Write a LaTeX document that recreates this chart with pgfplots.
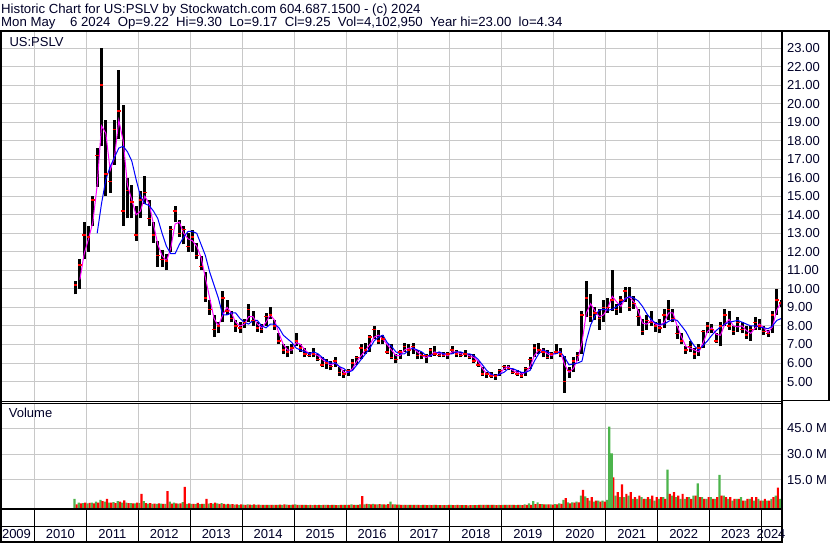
\documentclass[border=0pt]{standalone}
\usepackage{pgfplots}
\pgfplotsset{compat=1.18}
\usepackage{pgfplotstable}
\usepackage{fontspec}
\setmainfont{Liberation Sans}
\definecolor{gridc}{RGB}{200,200,200}
\definecolor{vgreen}{RGB}{76,180,76}
\definecolor{magc}{RGB}{255,0,255}
\definecolor{txt}{RGB}{0,0,40}
% monthly: m = months since Jan 2010; h,l,c price; a = short MA; b = long MA; g,r = volume (M) up/down
\pgfplotstableread{
m h l c a b g r
9 10.4 9.7 10.2 nan nan 4.0 0.8
10 11.6 10.0 11.3 10.5 nan 1.8 1.5
11 13.6 11.6 12.9 11.9 nan 1.6 1.9
12 13.4 12.0 12.8 12.7 nan 1.4 1.7
13 15.0 13.4 14.8 13.6 nan 1.8 1.5
14 17.6 15.5 17.2 15.6 13.0 2.4 1.9
15 23.0 17.7 21.0 18.8 14.6 3.5 2.8
16 19.1 15.0 16.2 18.4 15.9 2.4 4.0
17 16.6 15.2 15.8 16.4 16.6 1.9 1.8
18 19.1 16.7 18.6 17.1 17.1 2.2 1.6
19 21.8 18.1 19.6 19.1 17.6 2.8 2.4
20 19.9 13.4 14.2 18.0 17.7 1.9 3.2
21 16.0 13.8 15.3 15.6 17.4 1.8 1.6
22 15.6 13.8 14.7 14.8 16.9 1.6 1.4
23 14.5 12.6 12.9 14.0 15.9 1.4 1.8
24 15.3 13.8 14.8 14.2 15.0 1.6 6.9
25 16.1 14.6 15.2 15.0 14.6 2.8 1.6
26 14.8 13.4 13.8 14.6 14.5 1.3 1.6
27 13.6 12.5 12.9 13.5 14.2 1.1 1.3
28 12.6 11.2 11.8 12.4 13.8 1.1 1.5
29 12.1 11.2 11.6 11.8 13.0 1.3 1.1
30 11.9 11.0 11.5 11.5 12.3 1.2 8.6
31 13.4 12.0 13.2 12.2 11.9 2.5 1.3
32 14.5 13.6 14.2 13.5 11.9 1.8 1.5
33 13.7 12.8 13.0 13.6 12.4 1.3 1.5
34 13.4 12.4 13.2 13.0 12.8 2.2 11.0
35 13.0 12.0 12.3 12.7 13.1 1.2 1.5
36 13.2 12.0 12.8 12.6 13.1 1.2 1.2
37 12.5 11.6 11.8 12.3 13.0 1.0 1.7
38 11.8 11.0 11.2 11.7 12.4 1.0 1.2
39 10.9 9.3 9.5 10.6 11.8 1.2 4.0
40 9.4 8.6 8.9 9.5 10.9 1.3 1.6
41 8.6 7.4 7.8 8.4 10.2 1.3 1.8
42 8.2 7.6 8.0 8.0 9.5 1.5 1.1
43 9.9 8.2 9.5 8.6 8.6 1.6 1.1
44 9.4 8.6 8.8 9.0 8.6 0.9 1.2
45 8.8 8.2 8.4 8.7 8.7 0.9 1.0
46 8.3 7.7 8.0 8.2 8.7 0.7 0.9
47 8.2 7.6 7.9 8.0 8.4 0.6 0.8
48 8.4 7.9 8.2 8.1 8.2 0.7 0.6
49 9.2 8.2 8.9 8.5 8.1 0.8 0.7
50 8.8 8.0 8.3 8.5 8.3 0.6 0.8
51 8.2 7.7 7.9 8.1 8.3 0.5 0.7
52 8.1 7.6 7.8 7.9 8.0 0.5 0.6
53 8.7 8.0 8.5 8.2 7.9 0.6 0.5
54 9.0 8.4 8.6 8.6 8.1 0.6 0.5
55 8.3 7.8 8.0 8.3 8.1 0.5 0.6
56 7.6 7.0 7.2 7.6 7.9 0.5 0.7
57 7.0 6.5 6.7 7.0 7.5 0.6 0.8
58 6.9 6.3 6.6 6.7 7.3 0.7 0.6
59 7.0 6.5 6.8 6.7 7.1 0.6 0.7
60 7.6 6.9 7.2 7.1 6.8 0.8 0.6
61 7.0 6.6 6.8 7.0 6.7 0.5 0.6
62 6.8 6.3 6.5 6.7 6.6 0.5 0.5
63 6.6 6.3 6.4 6.5 6.5 0.4 0.5
64 6.8 6.3 6.5 6.5 6.6 0.4 0.5
65 6.5 6.1 6.2 6.4 6.5 0.4 0.5
66 6.3 5.8 5.9 6.2 6.3 0.4 0.6
67 6.2 5.7 6.0 6.0 6.1 0.5 0.5
68 6.1 5.6 5.8 5.9 6.0 0.4 0.5
69 6.3 5.8 6.1 6.0 6.0 0.5 0.4
70 5.8 5.3 5.5 5.8 5.8 0.4 0.6
71 5.6 5.2 5.4 5.5 5.7 0.5 0.5
72 5.7 5.3 5.6 5.5 5.5 0.6 0.5
73 6.2 5.6 6.0 5.7 5.6 0.8 0.5
74 6.4 5.9 6.3 6.1 5.9 0.6 0.6
75 7.0 6.2 6.8 6.4 6.2 0.8 5.7
76 7.1 6.5 6.7 6.7 6.5 0.8 1.2
77 7.5 6.6 7.4 7.0 6.8 1.0 0.8
78 8.0 7.3 7.8 7.4 7.2 1.2 0.9
79 7.8 7.0 7.2 7.5 7.4 0.8 1.0
80 7.5 7.0 7.3 7.3 7.5 0.9 0.8
81 7.0 6.5 6.6 7.0 7.1 0.7 1.0
82 7.0 6.2 6.3 6.7 6.9 2.5 0.8
83 6.5 6.0 6.2 6.4 6.6 0.8 0.7
84 6.7 6.2 6.6 6.4 6.5 0.7 0.6
85 7.1 6.6 6.9 6.7 6.5 0.6 0.5
86 7.0 6.4 6.7 6.8 6.7 0.5 0.6
87 7.1 6.5 6.9 6.8 6.8 0.6 0.5
88 6.7 6.2 6.4 6.6 6.7 0.5 0.5
89 6.6 6.2 6.4 6.4 6.6 0.4 0.5
90 6.5 6.0 6.4 6.3 6.4 0.5 0.4
91 6.8 6.3 6.7 6.4 6.4 0.6 0.4
92 6.9 6.4 6.5 6.6 6.5 0.5 0.5
93 6.6 6.3 6.4 6.5 6.6 0.4 0.4
94 6.6 6.3 6.4 6.5 6.5 0.4 0.4
95 6.6 6.2 6.5 6.4 6.5 0.4 0.5
96 6.9 6.5 6.7 6.6 6.5 0.5 0.4
97 6.7 6.3 6.5 6.6 6.6 0.4 0.5
98 6.6 6.3 6.4 6.5 6.6 0.4 0.4
99 6.7 6.3 6.5 6.5 6.5 0.4 0.4
100 6.5 6.2 6.3 6.4 6.5 0.3 0.4
101 6.5 6.0 6.1 6.3 6.4 0.4 0.4
102 6.1 5.8 5.9 6.1 6.2 0.4 0.5
103 5.8 5.3 5.4 5.7 5.9 0.5 0.6
104 5.5 5.2 5.4 5.4 5.6 0.6 0.5
105 5.5 5.2 5.3 5.4 5.4 0.5 0.5
106 5.4 5.1 5.3 5.3 5.3 0.5 0.4
107 5.7 5.3 5.6 5.4 5.4 0.6 0.4
108 5.9 5.6 5.8 5.7 5.5 0.6 0.5
109 5.9 5.6 5.7 5.8 5.7 0.5 0.5
110 5.7 5.4 5.5 5.6 5.7 0.5 0.5
111 5.6 5.3 5.4 5.5 5.6 0.4 0.5
112 5.5 5.2 5.3 5.4 5.5 0.5 0.4
113 5.8 5.3 5.7 5.5 5.5 0.8 0.5
114 6.3 5.7 6.2 5.8 5.6 1.5 0.6
115 7.0 6.3 6.8 6.4 6.1 2.8 1.0
116 7.1 6.5 6.7 6.7 6.5 2.0 1.0
117 6.8 6.3 6.6 6.7 6.7 1.0 0.8
118 6.7 6.2 6.3 6.5 6.6 0.9 0.8
119 6.6 6.2 6.5 6.4 6.5 0.8 0.7
120 7.0 6.5 6.6 6.6 6.5 1.0 0.8
121 6.8 6.3 6.5 6.6 6.6 1.5 1.2
122 6.4 4.4 5.0 5.9 6.3 3.5 4.5
123 5.8 5.2 5.6 5.5 5.9 2.0 1.5
124 6.3 5.5 6.1 5.7 5.95 2.0 1.8
125 6.6 6.1 6.4 6.2 6.0 2.5 2.0
126 8.8 6.5 8.6 7.1 6.1 6.0 9.2
127 10.4 8.5 9.5 8.7 7.2 5.5 4.5
128 9.7 8.2 8.5 9.2 8.05 3.0 5.0
129 9.0 8.3 8.7 8.8 8.55 2.5 3.0
130 8.9 7.8 8.4 8.5 8.85 3.0 2.5
131 9.4 8.2 9.0 8.6 8.9 3.0 2.5
132 9.5 8.7 9.0 9.0 8.85 3.5 3.0
133 11.0 8.8 9.4 9.6 8.9 8.0 16.5
134 9.2 8.6 8.9 9.3 9.05 6.0 8.0
135 9.6 8.7 9.4 9.05 9.25 5.0 12.5
136 10.1 9.3 9.9 9.5 9.45 5.0 7.0
137 10.1 8.8 9.0 9.55 9.6 6.0 8.0
138 9.6 8.9 9.2 9.3 9.5 4.0 5.0
139 8.9 8.0 8.5 8.8 9.35 4.0 6.0
140 8.4 7.5 7.7 8.15 9.05 5.0 4.0
141 8.6 7.8 8.3 8.1 8.65 4.0 5.0
142 8.8 8.0 8.2 8.3 8.35 4.0 6.0
143 8.2 7.7 8.0 8.1 8.15 3.0 5.0
144 8.4 7.6 7.9 8.0 8.1 4.0 5.0
145 8.9 7.9 8.6 8.2 8.1 5.0 4.0
146 9.4 8.3 8.9 8.7 8.25 21.0 7.0
147 8.9 8.2 8.4 8.7 8.35 6.0 8.0
148 8.0 7.3 7.6 8.0 8.3 5.0 6.0
149 7.6 7.0 7.2 7.4 8.0 4.0 7.0
150 6.9 6.5 6.7 6.9 7.7 4.0 5.0
151 7.2 6.6 6.9 6.8 7.25 5.0 4.0
152 6.8 6.2 6.5 6.7 6.9 6.0 6.0
153 7.0 6.4 6.8 6.6 6.7 13.0 5.0
154 7.8 6.8 7.7 7.1 6.95 5.0 4.0
155 8.2 7.6 8.0 7.7 7.2 4.0 5.0
156 8.1 7.6 7.8 7.9 7.5 5.0 4.0
157 7.6 7.1 7.2 7.55 7.75 4.0 5.0
158 8.2 6.9 8.0 7.5 7.95 18.0 6.0
159 8.9 8.0 8.6 8.1 8.1 6.0 5.0
160 8.8 7.8 8.0 8.35 8.2 4.0 5.0
161 8.0 7.5 7.7 8.0 8.25 3.0 4.0
162 8.5 7.7 8.2 7.95 8.3 4.0 4.0
163 8.2 7.6 7.8 8.0 8.2 5.0 3.0
164 8.0 7.3 7.5 7.75 8.1 3.0 4.0
165 8.0 7.2 7.8 7.6 8.0 4.0 5.0
166 8.5 7.8 8.2 7.9 8.0 3.0 5.0
167 8.4 7.8 8.0 8.1 7.95 4.0 3.0
168 8.0 7.5 7.7 7.9 7.9 3.0 4.0
169 7.8 7.4 7.6 7.65 7.85 3.0 3.0
170 8.8 7.6 8.6 7.95 8.0 4.0 5.0
171 10.0 8.6 9.4 8.85 8.3 6.0 10.5
172 9.4 9.0 9.25 9.3 8.4 4.0 0
}\price
\pgfplotstableread{
x v
2021.065 46.0
2021.115 30.5
}\spikes
\begin{document}
\begin{tikzpicture}[x=1pt,y=1pt]
\pgfplotsset{
  every axis/.append style={font=\fontsize{13}{13}\selectfont},
  base/.style={scale only axis, width=780pt, xmin=2009.376, xmax=2024.392,
    axis line style={draw=none}, tick style={draw=none}, major tick length=0pt,
    xtick={2010,...,2024}, xticklabels={,,}, grid=major,
    major grid style={gridc, line width=1pt}, anchor=south west,
    yticklabel pos=right,
    yticklabel style={anchor=west, inner sep=0pt, xshift=5pt, text=txt}},
}
\begin{axis}[base, at={(2pt,142pt)}, height=370pt, ymin=3.95, ymax=23.92,
  ytick={5,...,23},
  yticklabel={\pgfmathprintnumber[fixed,fixed zerofill,precision=2,assume math mode=true]{\tick}},
  unbounded coords=jump]
\addplot[black, line width=3pt, quiver={u=0, v=\thisrow{h}-\thisrow{l}}]
  table[x expr=2010+(\thisrow{m}+0.5)/12, y=l]{\price};
\addplot[only marks, mark=-, red, mark size=1.8pt, mark options={line width=1.5pt}]
  table[x expr=2010+(\thisrow{m}+0.5)/12, y=c]{\price};
\addplot[magc, line width=1pt, mark=none]
  table[x expr=2010+(\thisrow{m}+0.5)/12, y=a]{\price};
\addplot[blue, line width=1pt, mark=none]
  table[x expr=2010+(\thisrow{m}+0.5)/12, y=b]{\price};
\end{axis}
\begin{axis}[base, at={(2pt,34pt)}, height=106pt, ymin=0, ymax=61.5,
  ytick={16.83,31.83,46.83}, yticklabels={15.0 M,30.0 M,45.0 M}]
\addplot[ybar, bar width=2.2pt, bar shift=0pt, fill=vgreen, draw=none]
  table[x expr=2010+(\thisrow{m}+0.25)/12, y expr=\thisrow{g}+1.83]{\price};
\addplot[ybar, bar width=2.2pt, bar shift=0pt, fill=red, draw=none]
  table[x expr=2010+(\thisrow{m}+0.75)/12, y expr=\thisrow{r}+1.83]{\price};
\addplot[ybar, bar width=2.2pt, bar shift=0pt, fill=vgreen, draw=none]
  table[x=x, y expr=\thisrow{v}+1.83]{\spikes};
\end{axis}
% frame
\draw[line width=1.8pt] (0,511.8) -- (830,511.8);
\draw[line width=2pt] (1,0) -- (1,512.7);
\draw[line width=2pt] (782,0) -- (782,512.7);
\draw[line width=2pt] (829,142) -- (829,512.7);
\draw[line width=1pt] (0,141.8) -- (782,141.8);
\draw[line width=1pt] (0,139.8) -- (782,139.8);
\draw[line width=1.5pt] (782,142.5) -- (830,142.5);
\draw[line width=2pt] (0,33.8) -- (782,33.8);
\draw[line width=1.5pt] (0,16.7) -- (782,16.7);
\draw[line width=2pt] (0,1) -- (782,1);
\foreach \yr in {2010,...,2024} {
  \pgfmathsetmacro\xx{34.41+(\yr-2010)*51.944}
  \draw[line width=1pt] (\xx,1) -- (\xx,33.8);
}
\begin{scope}[font=\fontsize{13}{13}\selectfont, text=txt]
\foreach \yr in {2010,...,2023} {
  \pgfmathsetmacro\xx{34.41+(\yr-2010+0.5)*51.944}
  \node at (\xx,8.5) {\yr};
}
\node at (16.5,8.5) {2009};
\node at (771,8.5) {2024};
\node[anchor=base west, inner sep=0pt] at (1,529.7) {\fontsize{13.2}{13.2}\selectfont Historic Chart for US:PSLV by Stockwatch.com 604.687.1500 - (c) 2024};
\node[anchor=base west, inner sep=0pt] at (1,516.3) {\fontsize{13.2}{13.2}\selectfont Mon May\ \ \ \ 6 2024\ \ Op=9.22\ \ Hi=9.30\ \ Lo=9.17\ \ Cl=9.25\ \ Vol=4,102,950\ \ Year hi=23.00\ \ lo=4.34};
\node[anchor=base west, inner sep=0pt] at (9.3,496.3) {US:PSLV};
\node[anchor=base west, inner sep=0pt] at (8.7,125.3) {Volume};
\end{scope}
\pgfresetboundingbox
\path (0,0) rectangle (830,543);
\end{tikzpicture}
\end{document}
